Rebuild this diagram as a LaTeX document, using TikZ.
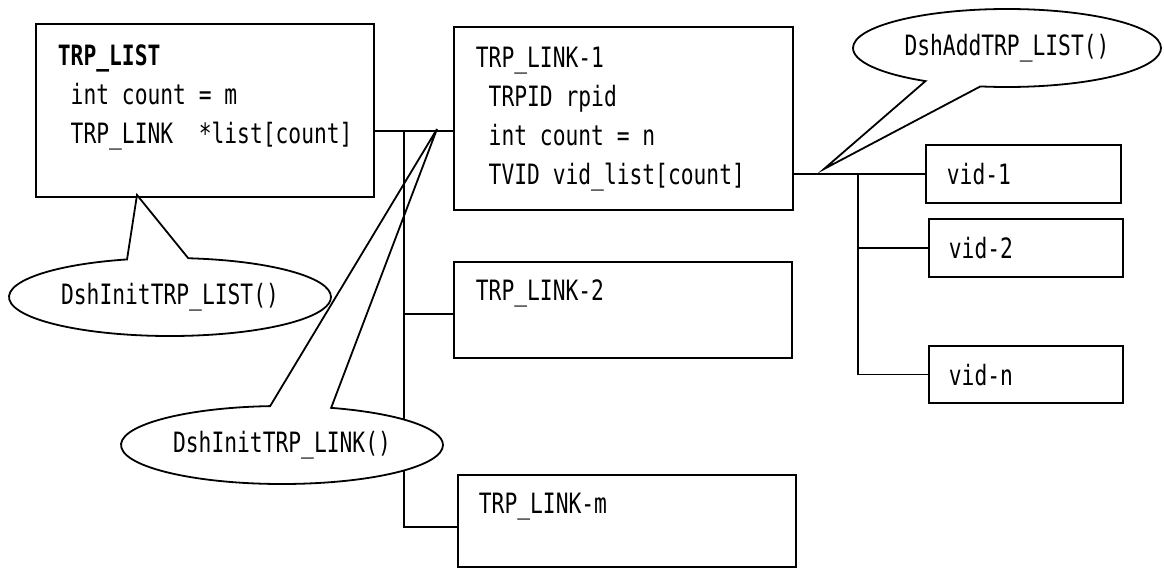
\documentclass[tikz,border=0pt]{standalone}
\usepackage{fontspec}
\setmainfont[FakeStretch=0.76]{DejaVu Sans Mono}
\usepackage{tikz}
\usetikzlibrary{shapes.callouts}
\tikzset{
	box/.style 2 args={draw,rectangle,anchor=north west,inner sep=0pt,minimum width=#1,minimum height=#2},
	txt/.style={inner sep=0pt,anchor=base west,align=left},
	bubble/.style={draw,fill=white,ellipse callout,inner sep=2pt,minimum width=#1,minimum height=39pt,callout pointer arc=22}
}

\begin{document}
\begin{tikzpicture}[x=0.5pt,y=-0.5pt,line width=0.9pt,font=\fontsize{14}{19.5}\selectfont]
	\useasboundingbox (0,0) rectangle (1164,568);

	% structures
	\node [box={169pt}{86.5pt}] (list) at (35,23) {};
	\node [box={169.5pt}{91.5pt}] (link1) at (453,26) {};
	\node [box={169pt}{48pt}] (link2) at (453,261) {};
	\node [box={169pt}{46pt}] (linkm) at (457,474) {};
	\node [box={97.5pt}{29pt}] (vid1) at (925,144) {};
	\node [box={97pt}{29pt}] (vid2) at (928,218) {};
	\node [box={97pt}{28.5pt}] (vidn) at (928,345) {};

	\node [txt,anchor=north west] (listtxt) at (57,44) {\textbf{TRP\_LIST}\\\ int count = m\\\ TRP\_LINK\ \ *list[count]};
	\node [txt,anchor=north west] (link1txt) at (475,46) {TRP\_LINK-1\\\ TRPID rpid\\\ int count = n\\\ TVID vid\_list[count]};
	\node [txt] (link2txt) at (475,300) {TRP\_LINK-2};
	\node [txt] (linkmtxt) at (478,513) {TRP\_LINK-m};
	\node [txt] (vid1txt) at (946,184) {vid-1};
	\node [txt] (vid2txt) at (948,258) {vid-2};
	\node [txt] (vidntxt) at (948,385) {vid-n};

	% junctions and pointer tips
	\coordinate (j1) at (404,131);
	\coordinate (j2) at (858,173);
	\coordinate (in2) at ([yshift=-2pt]link2.west);
	\coordinate (inm) at ([yshift=-3pt]linkm.west);
	\coordinate (listtip) at (137,195);
	\coordinate (linktip) at (437,129);
	\coordinate (addtip) at (824,169);

	% list -> links
	\draw (list.east |- j1) -- (link1.west |- j1);
	\draw (j1) -- (j1 |- inm) -- (inm);
	\draw (j1 |- in2) -- (in2);

	% link -> vids
	\draw (link1.east |- vid1.west) -- (vid1.west);
	\draw (j2) -- (j2 |- vidn.west) -- (vidn.west);
	\draw (j2 |- vid2.west) -- (vid2.west);

	% functions
	\node [bubble=161pt,callout absolute pointer={(listtip)}] (initlist) at (170,297) {DshInitTRP\_LIST()};
	\node [bubble=161pt,callout absolute pointer={(linktip)}] (initlink) at (282,445) {DshInitTRP\_LINK()};
	\node [bubble=154pt,callout absolute pointer={(addtip)}] (addlist) at (1007,48) {DshAddTRP\_LIST()};

	\draw (j1) -- (j1 |- in2);
\end{tikzpicture}
\end{document}
